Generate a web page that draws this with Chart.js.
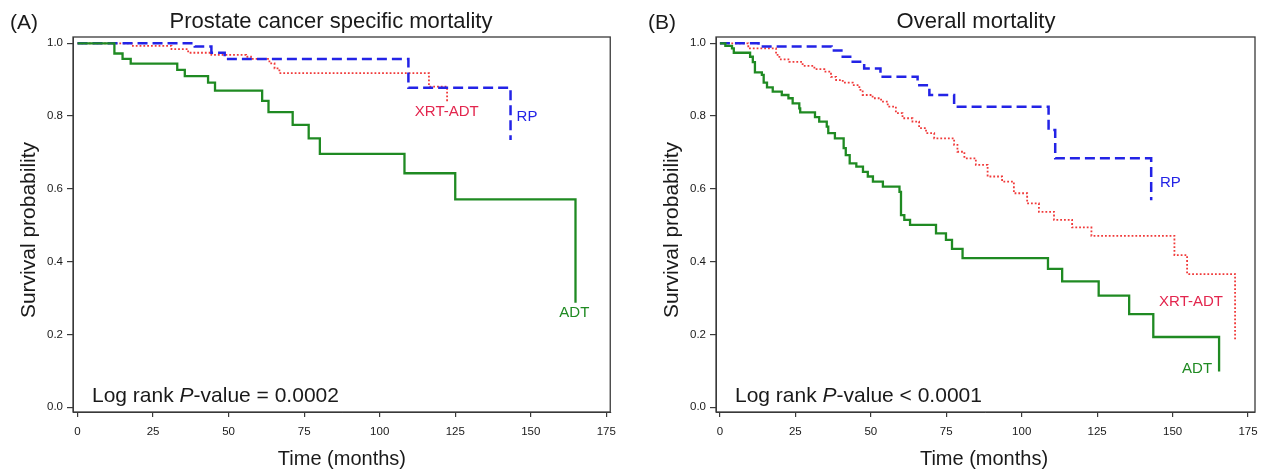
<!DOCTYPE html>
<html>
<head>
<meta charset="utf-8">
<script src="https://cdn.jsdelivr.net/npm/chart.js@4.4.1/dist/chart.umd.min.js"></script>
<style>
  html, body { margin: 0; padding: 0; background: #fff; }
  #wrap { position: relative; width: 1267px; height: 471px; overflow: hidden; }
  .panel { position: absolute; top: 0; width: 624px; height: 471px; }
</style>
</head>
<body>
<div id="wrap">
  <div class="panel" style="left:0px"><canvas id="chartA" width="624" height="471"></canvas></div>
  <div class="panel" style="left:643px"><canvas id="chartB" width="624" height="471"></canvas></div>
</div>
<script>
// axis ticks
const monthTicks = [0, 25, 50, 75, 100, 125, 150, 175];
const probTicks = [0, 0.2, 0.4, 0.6, 0.8, 1.0];

// (A) prostate cancer specific mortality
const aAdtTime = [0, 12.2, 14.9, 17.6, 33, 35.5, 43.2, 45.5, 61.1, 63.2, 71.2, 76.5, 80.2, 108.2, 125, 164.8];
const aAdtSurv = [1, 0.972, 0.957, 0.944, 0.927, 0.910, 0.892, 0.870, 0.842, 0.811, 0.776, 0.739, 0.696, 0.643, 0.571, 0.287];
const aRpTime = [0, 38.8, 44.3, 48.7, 109.5, 143.3];
const aRpSurv = [1, 0.991, 0.974, 0.957, 0.878, 0.734];
const aXrtTime = [0, 17.9, 31.1, 36.6, 44.3, 55.8, 57.4, 63.5, 65.2, 66.8, 116.3, 122.3];
const aXrtSurv = [1, 0.993, 0.984, 0.974, 0.968, 0.963, 0.957, 0.945, 0.931, 0.918, 0.881, 0.840];

// (B) overall mortality
const bAdtTime = [0, 1.8, 4.0, 4.6, 10.0, 10.9, 11.6, 13.9, 14.5, 15.6, 17.5, 20.5, 22.7, 24.1, 26.3, 26.6,
  31.5, 32.9, 35.4, 35.9, 38.1, 41.0, 41.7, 43.0, 45.2, 47.4, 49.0, 50.7, 54.0, 59.5, 60.0, 61.1, 63.0,
  71.6, 74.9, 76.9, 80.4, 108.7, 113.4, 125.5, 135.6, 143.6, 165.4];
const bAdtSurv = [1, 0.993, 0.986, 0.974, 0.963, 0.948, 0.920, 0.913, 0.892, 0.879, 0.867, 0.858, 0.849, 0.835, 0.821, 0.810,
  0.797, 0.785, 0.771, 0.753, 0.739, 0.712, 0.693, 0.670, 0.661, 0.647, 0.634, 0.620, 0.606, 0.592, 0.528, 0.515, 0.501,
  0.478, 0.460, 0.435, 0.410, 0.380, 0.346, 0.307, 0.256, 0.193, 0.098];
const bRpTime = [0, 12.8, 37.0, 40.7, 44.0, 47.8, 53.2, 65.5, 69.4, 77.6, 108.9, 111.1, 142.9];
const bRpSurv = [1, 0.991, 0.980, 0.963, 0.949, 0.931, 0.908, 0.885, 0.858, 0.826, 0.762, 0.684, 0.569];
const bXrtTime = [0, 9.4, 18.6, 19.7, 23.0, 27.4, 31.3, 34.6, 36.8, 38.5, 40.7, 44.0, 46.2, 47.3, 50.6, 53.4,
  55.6, 58.3, 60.5, 63.8, 66.0, 68.3, 71.0, 77.6, 78.7, 81.0, 84.8, 88.7, 93.5, 97.4, 101.8, 105.7,
  110.7, 116.7, 123.1, 150.6, 154.8, 170.7];
const bXrtSurv = [1, 0.986, 0.968, 0.956, 0.949, 0.938, 0.929, 0.922, 0.908, 0.899, 0.892, 0.885, 0.872, 0.858, 0.849, 0.840,
  0.826, 0.808, 0.794, 0.785, 0.767, 0.753, 0.739, 0.721, 0.702, 0.684, 0.666, 0.634, 0.620, 0.588, 0.560, 0.537,
  0.515, 0.494, 0.471, 0.418, 0.366, 0.185];

const FONT = "'Liberation Sans', Arial, Helvetica, sans-serif";
const INK = '#1a1a1a';
const GREEN = '#1f8a22', BLUE = '#2323e6', RED = '#f03a3a';

function pts(t, s) {
  return t.map((v, i) => ({ x: v, y: s[i] }));
}

// box, titles and text labels (drawn on top of the chart)
const decor = {
  id: 'decor',
  afterDraw(chart, args, o) {
    const ctx = chart.ctx, ca = chart.chartArea;
    const xs = chart.scales.x, ys = chart.scales.y;
    ctx.save();
    ctx.strokeStyle = '#3a3a3a';
    ctx.lineWidth = 1.3;
    ctx.strokeRect(ca.left, ca.top, ca.right - ca.left, ca.bottom - ca.top);

    ctx.fillStyle = INK;
    ctx.textBaseline = 'alphabetic';
    ctx.font = '21px ' + FONT;
    ctx.textAlign = 'left';
    ctx.fillText(o.letter, o.letterX, 29);
    ctx.font = '22px ' + FONT;
    ctx.textAlign = 'center';
    ctx.fillText(o.title, o.titleX, 28);

    // axis titles
    ctx.font = '20px ' + FONT;
    ctx.fillText('Time (months)', (xs.getPixelForValue(0) + xs.getPixelForValue(175)) / 2, 465);
    ctx.save();
    ctx.translate(35, 230);
    ctx.rotate(-Math.PI / 2);
    ctx.font = '21px ' + FONT;
    ctx.fillText('Survival probability', 0, 0);
    ctx.restore();

    // log rank
    ctx.textAlign = 'left';
    let x = 92;
    const y = 402;
    const parts = [['Log rank ', ''], ['P', 'italic '], ['-value ' + o.pText, '']];
    parts.forEach(p => {
      ctx.font = p[1] + '21px ' + FONT;
      ctx.fillText(p[0], x, y);
      x += ctx.measureText(p[0]).width;
    });

    // curve labels
    ctx.font = '15px ' + FONT;
    ctx.textBaseline = 'middle';
    o.labels.forEach(l => {
      ctx.fillStyle = l.color;
      ctx.textAlign = l.align;
      ctx.fillText(l.text, xs.getPixelForValue(l.t), ys.getPixelForValue(l.p));
    });
    ctx.restore();
  }
};

function makeChart(id, cfg) {
  return new Chart(document.getElementById(id), {
    type: 'line',
    data: {
      datasets: [
        { label: 'ADT', data: pts(cfg.adt[0], cfg.adt[1]), borderColor: GREEN, borderWidth: 2.3, stepped: true, pointRadius: 0 },
        { label: 'RP', data: pts(cfg.rp[0], cfg.rp[1]), borderColor: BLUE, borderWidth: 2.5, borderDash: [10, 5], stepped: true, pointRadius: 0 },
        { label: 'XRT-ADT', data: pts(cfg.xrt[0], cfg.xrt[1]), borderColor: RED, borderWidth: 1.8, borderDash: [1.8, 2], stepped: true, pointRadius: 0 }
      ]
    },
    options: {
      responsive: false,
      animation: false,
      layout: { padding: { left: 0, right: 624 - 612, top: 37, bottom: 0 } },
      plugins: { legend: { display: false }, tooltip: { enabled: false }, decor: cfg.decor },
      scales: {
        x: {
          type: 'linear', min: cfg.xMin, max: cfg.xMax,
          afterBuildTicks: a => { a.ticks = monthTicks.map(v => ({ value: v })); },
          afterFit: a => { a.height = 471 - 412; },
          ticks: { font: { size: 11.5, family: FONT }, color: INK, padding: 8, maxRotation: 0, autoSkip: false, callback: v => String(v) },
          grid: { drawOnChartArea: false, drawTicks: true, tickLength: 5, color: '#3a3a3a', lineWidth: 1.2 },
          border: { display: true, color: '#3a3a3a' }
        },
        y: {
          type: 'linear', min: -0.013, max: 1.0173,
          afterBuildTicks: a => { a.ticks = probTicks.map(v => ({ value: v })); },
          afterFit: a => { a.width = 73; },
          ticks: { font: { size: 11.5, family: FONT }, color: INK, padding: 4, autoSkip: false, callback: v => v.toFixed(1) },
          grid: { drawOnChartArea: false, drawTicks: true, tickLength: 6, color: '#3a3a3a', lineWidth: 1.2 },
          border: { display: true, color: '#3a3a3a' }
        }
      }
    },
    plugins: [decor]
  });
}

makeChart('chartA', {
  adt: [aAdtTime, aAdtSurv], rp: [aRpTime, aRpSurv], xrt: [aXrtTime, aXrtSurv],
  xMin: -1.5, xMax: 176.3,
  decor: {
    letter: '(A)', letterX: 10, title: 'Prostate cancer specific mortality', titleX: 331, pText: '= 0.0002',
    labels: [
      { text: 'XRT-ADT', t: 122.2, p: 0.812, color: '#e3264e', align: 'center' },
      { text: 'RP', t: 145.3, p: 0.797, color: BLUE, align: 'left' },
      { text: 'ADT', t: 164.4, p: 0.259, color: GREEN, align: 'center' }
    ]
  }
});

makeChart('chartB', {
  adt: [bAdtTime, bAdtSurv], rp: [bRpTime, bRpSurv], xrt: [bXrtTime, bXrtSurv],
  xMin: -1.3, xMax: 177.3,
  decor: {
    letter: '(B)', letterX: 5, title: 'Overall mortality', titleX: 333, pText: '< 0.0001',
    labels: [
      { text: 'RP', t: 145.8, p: 0.617, color: BLUE, align: 'left' },
      { text: 'XRT-ADT', t: 156.1, p: 0.290, color: '#e3264e', align: 'center' },
      { text: 'ADT', t: 158.1, p: 0.105, color: GREEN, align: 'center' }
    ]
  }
});
</script>
</body>
</html>
